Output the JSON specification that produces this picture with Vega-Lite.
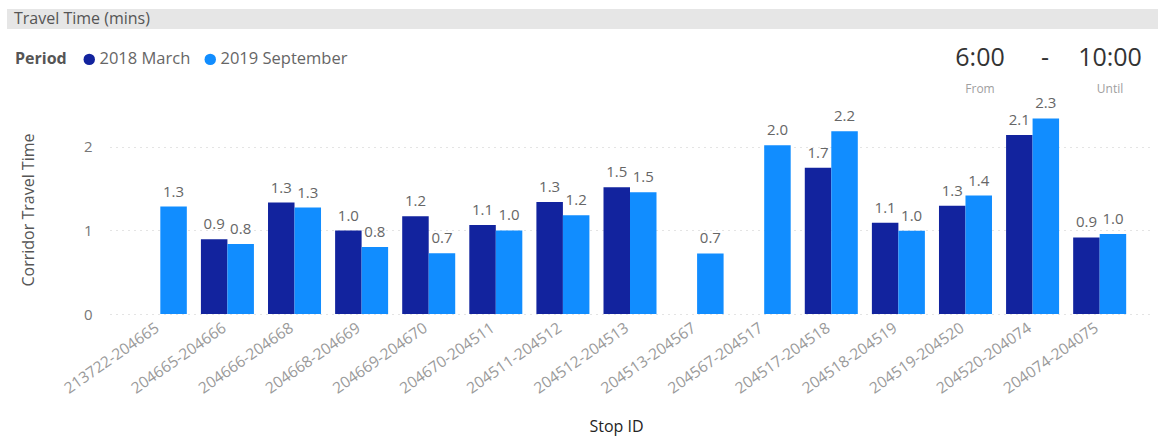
{
  "$schema": "https://vega.github.io/schema/vega-lite/v6.json",
  "width": 1040,
  "height": 209,
  "autosize": {"type": "none"},
  "padding": {"left": 110, "top": 105, "right": 10, "bottom": 127},
  "background": "white",
  "config": {
    "font": "Open Sans",
    "view": {"stroke": null},
    "axis": {"domain": false, "ticks": false, "labelFont": "Open Sans", "titleFont": "Open Sans"},
    "legend": {"labelFont": "Open Sans", "titleFont": "Open Sans"}
  },
  "layer": [
    {
      "data": {
        "values": [
          {"stop": "213722-204665", "period": "2019 September", "minutes": 1.285},
          {"stop": "204665-204666", "period": "2018 March", "minutes": 0.894},
          {"stop": "204665-204666", "period": "2019 September", "minutes": 0.838},
          {"stop": "204666-204668", "period": "2018 March", "minutes": 1.333},
          {"stop": "204666-204668", "period": "2019 September", "minutes": 1.273},
          {"stop": "204668-204669", "period": "2018 March", "minutes": 0.998},
          {"stop": "204668-204669", "period": "2019 September", "minutes": 0.802},
          {"stop": "204669-204670", "period": "2018 March", "minutes": 1.168},
          {"stop": "204669-204670", "period": "2019 September", "minutes": 0.728},
          {"stop": "204670-204511", "period": "2018 March", "minutes": 1.064},
          {"stop": "204670-204511", "period": "2019 September", "minutes": 1.0},
          {"stop": "204511-204512", "period": "2018 March", "minutes": 1.34},
          {"stop": "204511-204512", "period": "2019 September", "minutes": 1.18},
          {"stop": "204512-204513", "period": "2018 March", "minutes": 1.516},
          {"stop": "204512-204513", "period": "2019 September", "minutes": 1.456},
          {"stop": "204513-204567", "period": "2019 September", "minutes": 0.724},
          {"stop": "204567-204517", "period": "2019 September", "minutes": 2.02},
          {"stop": "204517-204518", "period": "2018 March", "minutes": 1.749},
          {"stop": "204517-204518", "period": "2019 September", "minutes": 2.185},
          {"stop": "204518-204519", "period": "2018 March", "minutes": 1.092},
          {"stop": "204518-204519", "period": "2019 September", "minutes": 0.996},
          {"stop": "204519-204520", "period": "2018 March", "minutes": 1.296},
          {"stop": "204519-204520", "period": "2019 September", "minutes": 1.416},
          {"stop": "204520-204074", "period": "2018 March", "minutes": 2.14},
          {"stop": "204520-204074", "period": "2019 September", "minutes": 2.34},
          {"stop": "204074-204075", "period": "2018 March", "minutes": 0.916},
          {"stop": "204074-204075", "period": "2019 September", "minutes": 0.956}
        ]
      },
      "encoding": {
        "x": {
          "field": "stop",
          "type": "nominal",
          "sort": null,
          "title": "Stop ID",
          "scale": {"paddingInner": 0.21, "paddingOuter": 0.355},
          "axis": {
            "labelAngle": -35,
            "labelColor": "#9a9a9a",
            "labelFontSize": 15.5,
            "labelPadding": 6,
            "labelOffset": -7,
            "titleColor": "#252423",
            "titleFontSize": 16,
            "titleFontWeight": "normal",
            "titlePadding": 22,
            "titleX": 506
          }
        },
        "xOffset": {"field": "period", "type": "nominal", "scale": {"domain": ["2018 March", "2019 September"], "paddingInner": 0, "paddingOuter": 0}},
        "y": {
          "field": "minutes",
          "type": "quantitative",
          "title": "Corridor Travel Time",
          "scale": {"domain": [0, 2.5], "nice": false},
          "axis": {
            "values": [0, 1, 2],
            "format": "d",
            "grid": true,
            "gridColor": "#c8c8c8",
            "gridDash": [1, 5],
            "labelColor": "#777777",
            "labelFontSize": 15,
            "labelPadding": 18,
            "titleColor": "#555555",
            "titleFontSize": 16,
            "titleFontWeight": "normal",
            "titlePadding": 47
          }
        }
      },
      "layer": [
        {
          "mark": {"type": "bar"},
          "encoding": {
            "color": {
              "field": "period",
              "type": "nominal",
              "title": "Period",
              "scale": {"domain": ["2018 March", "2019 September"], "range": ["#12239E", "#118DFF"]},
              "legend": {
                "orient": "none",
                "legendX": -95,
                "legendY": -54,
                "direction": "horizontal",
                "titleOrient": "left",
                "titleFontSize": 16,
                "titleFontWeight": "bold",
                "titleColor": "#555555",
                "titlePadding": 14,
                "labelFontSize": 16.5,
                "labelColor": "#666666",
                "labelOffset": 2,
                "columnPadding": 11,
                "symbolType": "circle",
                "symbolSize": 130,
                "symbolStrokeWidth": 0
              }
            }
          }
        },
        {
          "mark": {"type": "text", "baseline": "bottom", "dy": -7, "fontSize": 15, "color": "#666666"},
          "encoding": {
            "text": {"field": "minutes", "type": "quantitative", "format": ".1f"}
          }
        }
      ]
    },
    {
      "data": {"values": [{"section": "Travel Time (mins)"}]},
      "encoding": {
        "x": {"field": "section", "type": "nominal", "scale": {"range": [-103, 1048], "paddingInner": 0, "paddingOuter": 0}, "axis": null},
        "y": {"field": "section", "type": "nominal", "scale": {"range": [-96, -76], "paddingInner": 0, "paddingOuter": 0}, "axis": null}
      },
      "layer": [
        {"mark": {"type": "rect", "color": "#e6e6e6"}},
        {
          "mark": {"type": "text", "align": "left", "baseline": "middle", "dx": 7, "fontSize": 16, "color": "#555555"},
          "encoding": {
            "x": {"field": "section", "type": "nominal", "bandPosition": 0, "axis": null},
            "text": {"field": "section"}
          }
        }
      ]
    },
    {
      "data": {
        "values": [
          {"slot": "From", "kind": "time", "text": "6:00"},
          {"slot": "-", "kind": "time", "text": "-"},
          {"slot": "Until", "kind": "time", "text": "10:00"},
          {"slot": "From", "kind": "caption", "text": "From"},
          {"slot": "Until", "kind": "caption", "text": "Until"}
        ]
      },
      "mark": {"type": "text", "baseline": "middle"},
      "encoding": {
        "x": {"field": "slot", "type": "nominal", "sort": null, "scale": {"type": "point", "domain": ["From", "-", "Until"], "range": [870, 1000], "padding": 0}, "axis": null},
        "y": {"field": "kind", "type": "nominal", "scale": {"type": "point", "domain": ["time", "caption"], "range": [-47, -16], "padding": 0}, "axis": null},
        "size": {"field": "kind", "type": "ordinal", "scale": {"domain": ["time", "caption"], "range": [25, 12]}, "legend": null},
        "color": {"field": "kind", "type": "nominal", "scale": {"domain": ["time", "caption"], "range": ["#333333", "#a0a0a0"]}, "legend": null},
        "text": {"field": "text"}
      }
    }
  ],
  "resolve": {
    "scale": {"x": "independent", "y": "independent", "color": "independent", "size": "independent"}
  }
}
